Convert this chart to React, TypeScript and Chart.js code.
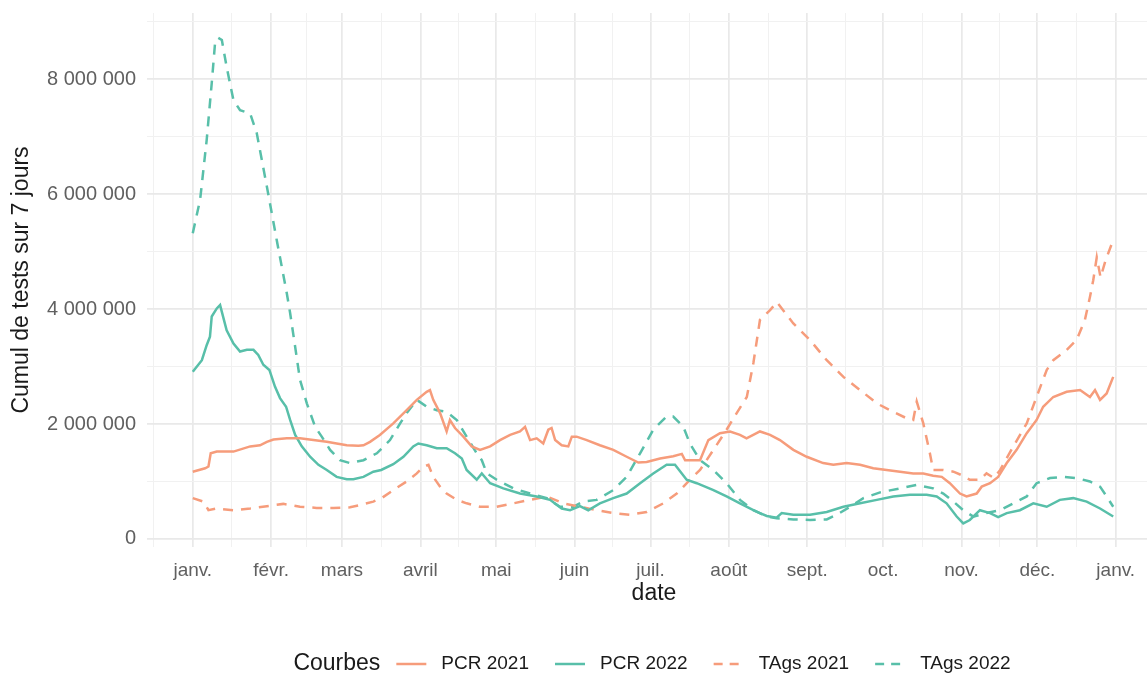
import React, { useEffect, useRef } from 'react';
import { Chart, registerables } from 'chart.js';

Chart.register(...registerables);

// ---------- data (values in millions of tests, x = day of year, 0 = 1 Jan) ----------
const monthStartDays = [0, 31, 59, 90, 120, 151, 181, 212, 243, 273, 304, 334, 365];
const monthLabels = ['janv.', 'févr.', 'mars', 'avril', 'mai', 'juin', 'juil.', 'août', 'sept.', 'oct.', 'nov.', 'déc.', 'janv.'];
const yMajorTicks = [0, 2, 4, 6, 8];
const yMinorTicks = [1, 3, 5, 7, 9];

const seriesNames = ['PCR 2021', 'PCR 2022', 'TAgs 2021', 'TAgs 2022'];
const legendTitle = 'Courbes';
const xTitle = 'date';
const yTitle = 'Cumul de tests sur 7 jours';

const pcr2021Days = [0, 4.9, 6.2, 7.1, 9.5, 16.1, 22.7, 26.6, 29.3, 31.9, 37.2, 42.4, 47.7, 53, 56.9, 60.9, 65.5, 67.5, 70.1, 74, 79.3, 84.6, 88.6, 92.5, 93.8, 95.1, 97.8, 100.4, 101.7, 103.7, 107, 110.3, 113.6, 117.6, 121.5, 125.5, 129.4, 131.4, 133.4, 136, 138.6, 140.6, 141.9, 143.3, 145.9, 148.5, 149.9, 151.8, 155.8, 161, 166.3, 171.6, 176.2, 179.5, 184.8, 190, 193.4, 194.7, 198.6, 200.6, 203.9, 208.5, 212.5, 216.4, 219, 224.3, 228.3, 232.2, 237.5, 242.8, 249.3, 253.3, 258.6, 263.9, 269.1, 274.4, 279.7, 284.9, 288.9, 292.8, 296.2, 299.4, 303.4, 306, 310, 312, 315.3, 318.5, 321.9, 325.8, 329.8, 333.7, 336.3, 340.3, 345.6, 350.9, 354.8, 356.8, 358.8, 361.4, 364];
const pcr2021Values = [1.17, 1.23, 1.26, 1.49, 1.52, 1.52, 1.61, 1.63, 1.69, 1.73, 1.75, 1.75, 1.72, 1.69, 1.66, 1.63, 1.62, 1.63, 1.69, 1.81, 2.01, 2.24, 2.42, 2.56, 2.59, 2.42, 2.19, 1.87, 2.07, 1.93, 1.78, 1.61, 1.55, 1.61, 1.72, 1.81, 1.87, 1.95, 1.72, 1.75, 1.66, 1.9, 1.93, 1.72, 1.63, 1.61, 1.78, 1.78, 1.72, 1.63, 1.55, 1.43, 1.33, 1.34, 1.4, 1.44, 1.48, 1.37, 1.37, 1.37, 1.72, 1.84, 1.87, 1.81, 1.75, 1.87, 1.81, 1.72, 1.55, 1.43, 1.32, 1.29, 1.32, 1.29, 1.23, 1.2, 1.17, 1.14, 1.14, 1.1, 1.08, 0.97, 0.79, 0.74, 0.79, 0.91, 0.97, 1.08, 1.32, 1.55, 1.84, 2.07, 2.3, 2.47, 2.56, 2.59, 2.47, 2.59, 2.42, 2.53, 2.82];

const pcr2022Days = [0, 3.6, 5.5, 6.8, 7.5, 9.5, 10.8, 11.5, 13.4, 16.1, 18.7, 21.4, 24, 25.9, 27.9, 30.3, 32.5, 34.5, 36.9, 38.5, 40.5, 43.1, 46.4, 49.7, 53, 56.9, 60.9, 63.5, 67.5, 71.4, 74.5, 79.3, 83.3, 87.2, 89.2, 92.5, 96.5, 100.4, 103.7, 106.4, 108.3, 112.3, 114.3, 117.6, 122.8, 129.4, 136, 141.3, 145.9, 149.2, 153.1, 156.4, 161, 166.3, 171.6, 176.9, 182.1, 187.4, 190.7, 193.4, 195.3, 199.3, 202.6, 205.9, 211.1, 216.4, 221.7, 224.3, 227, 230.9, 232.9, 237.5, 244.1, 250.7, 257.3, 263.9, 270.5, 277, 283.6, 290.2, 294.2, 298.1, 302.1, 304.7, 307.3, 311.3, 315.3, 318.5, 321.9, 327.1, 332.4, 337.7, 342.9, 348.2, 353.5, 358.8, 364];
const pcr2022Values = [2.91, 3.11, 3.37, 3.52, 3.87, 4.01, 4.07, 3.95, 3.63, 3.4, 3.26, 3.29, 3.29, 3.2, 3.03, 2.94, 2.65, 2.45, 2.3, 2.07, 1.81, 1.61, 1.43, 1.29, 1.2, 1.08, 1.04, 1.04, 1.08, 1.17, 1.2, 1.3, 1.43, 1.61, 1.66, 1.63, 1.58, 1.58, 1.49, 1.4, 1.2, 1.03, 1.14, 0.97, 0.88, 0.79, 0.74, 0.68, 0.53, 0.5, 0.57, 0.5, 0.62, 0.71, 0.79, 0.97, 1.14, 1.29, 1.29, 1.14, 1.03, 0.97, 0.91, 0.85, 0.74, 0.62, 0.5, 0.45, 0.4, 0.37, 0.45, 0.42, 0.42, 0.47, 0.56, 0.62, 0.68, 0.74, 0.77, 0.77, 0.74, 0.62, 0.39, 0.27, 0.33, 0.5, 0.45, 0.38, 0.45, 0.5, 0.62, 0.56, 0.68, 0.71, 0.65, 0.53, 0.39];

const tags2021Days = [0, 4.2, 6.2, 9.5, 16.1, 22.7, 29.3, 35.8, 42.4, 49, 55.6, 62.2, 66.2, 71.4, 75, 79.3, 84.6, 88.6, 91.2, 93.2, 95.1, 97.8, 100.4, 104.4, 108.3, 113.6, 120.2, 126.8, 133.4, 140, 146.5, 153.1, 159.7, 166.3, 172.9, 179.5, 186.1, 191.4, 196.6, 200.6, 205.9, 211.1, 215.1, 219.1, 221.7, 224.3, 228.3, 231, 237.5, 244.1, 250.7, 257.3, 263.9, 270.5, 277, 282.3, 284.9, 286.3, 288.9, 291.5, 292.8, 296.8, 300.8, 304.1, 307.3, 311.3, 313.9, 316.8, 319.3, 324.5, 329.8, 333.7, 337.7, 340.3, 345.6, 349.5, 352.8, 354.8, 356.1, 357.5, 359, 361, 364];
const tags2021Values = [0.71, 0.65, 0.5, 0.53, 0.5, 0.53, 0.57, 0.61, 0.56, 0.54, 0.54, 0.55, 0.59, 0.65, 0.72, 0.85, 1.0, 1.14, 1.26, 1.29, 1.08, 0.91, 0.79, 0.68, 0.62, 0.56, 0.56, 0.62, 0.68, 0.74, 0.62, 0.56, 0.5, 0.45, 0.42, 0.47, 0.62, 0.79, 1.03, 1.2, 1.55, 1.9, 2.19, 2.47, 3.06, 3.81, 3.98, 4.12, 3.75, 3.46, 3.11, 2.82, 2.59, 2.36, 2.21, 2.1, 2.07, 2.39, 2.01, 1.49, 1.2, 1.2, 1.17, 1.11, 1.03, 1.03, 1.14, 1.06, 1.2, 1.61, 2.01, 2.47, 2.94, 3.11, 3.29, 3.46, 3.81, 4.21, 4.5, 4.9, 4.55, 4.85, 5.2];

const tags2022Days = [0, 2.9, 5.5, 7.5, 8.8, 10, 11.5, 13.4, 16.1, 18.7, 22.7, 25.3, 29.3, 33.2, 37.2, 38.5, 40.5, 42.4, 45.1, 48.4, 51, 54.3, 58.2, 62.2, 67.5, 72.8, 78, 82, 84.6, 88.6, 92.5, 96.5, 100.4, 104.4, 108.3, 112.3, 114.3, 116.3, 120.2, 126.8, 133.4, 140, 145.2, 150.5, 154.4, 159.7, 166.3, 171.6, 176.9, 182.1, 187.4, 190, 194, 196.6, 200.6, 205.9, 211.1, 216.4, 221.7, 227, 230.9, 237.5, 244.1, 250.7, 254.6, 259.9, 265.2, 271.8, 279.7, 286.3, 292.8, 296.8, 300.8, 304.7, 308.7, 313.9, 319.3, 324.5, 329.8, 333.7, 339, 344.2, 349.5, 354.8, 358.8, 361.4, 364];
const tags2022Values = [5.32, 5.9, 6.94, 7.93, 8.62, 8.72, 8.68, 8.21, 7.63, 7.46, 7.4, 7.06, 6.13, 5.2, 4.27, 3.93, 3.34, 2.77, 2.36, 1.95, 1.78, 1.55, 1.37, 1.32, 1.37, 1.49, 1.72, 2.01, 2.19, 2.42, 2.3, 2.24, 2.21, 2.07, 1.78, 1.49, 1.37, 1.14, 1.03, 0.88, 0.79, 0.71, 0.56, 0.56, 0.65, 0.68, 0.85, 1.08, 1.49, 1.9, 2.13, 2.13, 1.95, 1.66, 1.37, 1.2, 0.97, 0.68, 0.5, 0.39, 0.36, 0.34, 0.33, 0.34, 0.42, 0.56, 0.71, 0.81, 0.88, 0.94, 0.88, 0.79, 0.65, 0.5, 0.39, 0.45, 0.5, 0.62, 0.74, 0.97, 1.06, 1.08, 1.06, 1.0, 0.91, 0.74, 0.56];

// ---------- styling ----------
const ORANGE = '#F69C7B';
const TEAL = '#58BFA9';
const FONT = '"Liberation Sans", Arial, Helvetica, sans-serif';
const X_MIN = -18.1;
const X_MAX = 382.9;
const Y_MIN = -0.14e6;
const Y_MAX = 9.15e6;

const toPoints = (days: number[], vals: number[]) => days.map((d, i) => ({ x: d, y: vals[i] * 1e6 }));

const fmtThousands = (v: number) => String(Math.round(v)).replace(/\B(?=(\d{3})+(?!\d))/g, ' ');

const legendPlugin = {
  id: 'ggLegend',
  afterDraw(chart: any) {
    const ctx = chart.ctx as CanvasRenderingContext2D;
    const ds = chart.data.datasets;
    const titleFont = `23px ${FONT}`;
    const itemFont = `19px ${FONT}`;
    const lineLen = 30;
    const gapLineText = 15;
    const gapTextLine = 26;
    const gapTitle = 16;
    const cy = 664;
    const cx = 652;
    ctx.save();
    ctx.font = titleFont;
    const tw = ctx.measureText(legendTitle).width;
    ctx.font = itemFont;
    const widths = ds.map((d: any) => ctx.measureText(d.label).width);
    let total = tw + gapTitle;
    widths.forEach((w: number, i: number) => {
      total += lineLen + gapLineText + w + (i < widths.length - 1 ? gapTextLine : 0);
    });
    let x = cx - total / 2;
    ctx.textBaseline = 'middle';
    ctx.textAlign = 'left';
    ctx.fillStyle = '#1a1a1a';
    ctx.font = titleFont;
    ctx.fillText(legendTitle, x, cy);
    x += tw + gapTitle;
    ds.forEach((d: any, i: number) => {
      ctx.beginPath();
      ctx.strokeStyle = d.borderColor;
      ctx.lineWidth = 2.5;
      ctx.setLineDash(d.borderDash && d.borderDash.length ? [9, 7] : []);
      ctx.moveTo(x, cy);
      ctx.lineTo(x + lineLen, cy);
      ctx.stroke();
      ctx.setLineDash([]);
      x += lineLen + gapLineText;
      ctx.font = itemFont;
      ctx.fillStyle = '#1a1a1a';
      ctx.fillText(d.label, x, cy);
      x += widths[i] + gapTextLine;
    });
    ctx.restore();
  },
};

export default function App() {
  const canvasRef = useRef<HTMLCanvasElement | null>(null);

  useEffect(() => {
    if (!canvasRef.current) return;

    const xTicks: { value: number; minor: boolean }[] = [];
    const bounds = [monthStartDays[0] - 31, ...monthStartDays, monthStartDays[monthStartDays.length - 1] + 31];
    for (let i = 0; i < bounds.length - 1; i++) {
      const mid = (bounds[i] + bounds[i + 1]) / 2;
      if (mid >= X_MIN && mid <= X_MAX) xTicks.push({ value: mid, minor: true });
    }
    monthStartDays.forEach((d) => xTicks.push({ value: d, minor: false }));
    xTicks.sort((a, b) => a.value - b.value);

    const yTicks: { value: number; minor: boolean }[] = [];
    yMajorTicks.forEach((v) => yTicks.push({ value: v * 1e6, minor: false }));
    yMinorTicks.forEach((v) => {
      if (v * 1e6 <= Y_MAX) yTicks.push({ value: v * 1e6, minor: true });
    });
    yTicks.sort((a, b) => a.value - b.value);

    const gridColor = (c: any) => (c.tick && c.tick.minor ? '#f1f1f1' : '#e9e9e9');
    const gridWidth = (c: any) => (c.tick && c.tick.minor ? 1 : 1.7);

    const chart = new Chart(canvasRef.current, {
      type: 'line',
      data: {
        datasets: [
          { label: seriesNames[0], data: toPoints(pcr2021Days, pcr2021Values), borderColor: ORANGE, borderDash: [] },
          { label: seriesNames[1], data: toPoints(pcr2022Days, pcr2022Values), borderColor: TEAL, borderDash: [] },
          { label: seriesNames[2], data: toPoints(tags2021Days, tags2021Values), borderColor: ORANGE, borderDash: [10, 8] },
          { label: seriesNames[3], data: toPoints(tags2022Days, tags2022Values), borderColor: TEAL, borderDash: [10, 8] },
        ].map((d) => ({
          ...d,
          backgroundColor: d.borderColor,
          borderWidth: 2.5,
          pointRadius: 0,
          pointHoverRadius: 0,
          tension: 0,
          fill: false,
        })),
      },
      options: {
        animation: false,
        responsive: false,
        maintainAspectRatio: false,
        events: [],
        layout: { padding: { left: 0, top: 13, right: 0, bottom: 0 } },
        plugins: {
          legend: { display: false },
          tooltip: { enabled: false },
        },
        scales: {
          x: {
            type: 'linear',
            min: X_MIN,
            max: X_MAX,
            afterBuildTicks: (scale: any) => {
              scale.ticks = xTicks.map((t) => ({ ...t }));
            },
            afterFit: (scale: any) => {
              scale.height = 127;
              scale.paddingLeft = 0;
              scale.paddingRight = 0;
            },
            ticks: {
              autoSkip: false,
              maxRotation: 0,
              minRotation: 0,
              padding: 12,
              color: '#606060',
              font: { family: FONT, size: 19 },
              callback: (value: any) => {
                const idx = monthStartDays.indexOf(Number(value));
                return idx >= 0 ? monthLabels[idx] : '';
              },
            },
            grid: { color: gridColor, lineWidth: gridWidth, drawTicks: false },
            border: { display: false },
            title: {
              display: true,
              text: xTitle,
              color: '#1a1a1a',
              font: { family: FONT, size: 23 },
              padding: { top: 0, bottom: 67 },
            },
          },
          y: {
            type: 'linear',
            min: Y_MIN,
            max: Y_MAX,
            afterBuildTicks: (scale: any) => {
              scale.ticks = yTicks.map((t) => ({ ...t }));
            },
            afterFit: (scale: any) => {
              scale.width = 147;
              scale.paddingTop = 0;
              scale.paddingBottom = 0;
            },
            ticks: {
              autoSkip: false,
              padding: 11,
              color: '#606060',
              font: { family: FONT, size: 20 },
              callback: (value: any) => {
                const v = Number(value);
                return yMajorTicks.includes(Math.round(v / 1e6)) && v % 2e6 === 0 ? fmtThousands(v) : '';
              },
            },
            grid: { color: gridColor, lineWidth: gridWidth, drawTicks: false },
            border: { display: false },
            title: {
              display: true,
              text: yTitle,
              color: '#1a1a1a',
              font: { family: FONT, size: 23 },
              padding: { top: 8, bottom: 0 },
            },
          },
        },
      },
      plugins: [legendPlugin],
    } as any);

    return () => {
      chart.destroy();
    };
  }, []);

  return (
    <div style={{ position: 'fixed', left: 0, top: 0, width: 1147, height: 674, overflow: 'hidden', background: '#fff' }}>
      <canvas ref={canvasRef} width={1161} height={674} style={{ display: 'block', width: 1161, height: 674 }} />
    </div>
  );
}
